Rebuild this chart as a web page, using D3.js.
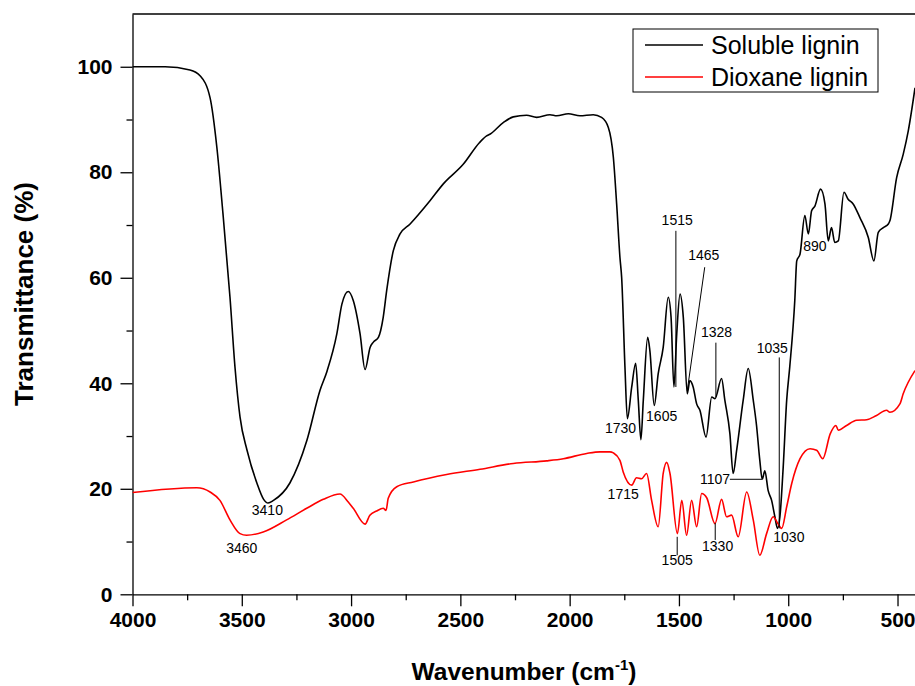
<!DOCTYPE html>
<html lang="en">
<head>
  <meta charset="utf-8">
  <title>FTIR spectra of lignin</title>
  <script src="https://d3js.org/d3.v7.min.js"></script>
  <style>
    body { margin: 0; background: #fff; }
    svg { display: block; font-family: Arial, "Liberation Sans", sans-serif; }
  </style>
</head>
<body>
  <svg id="chart" width="915" height="686"></svg>

  <script>
    // [wavenumber, transmittance]
    const soluble = [
      [4000,100],[3851,100],[3737,99.4],[3691,98.3],[3645,94.1],[3614,84.7],[3586,72.1],[3554,56.3],
      [3531,43.0],[3508,33.6],[3476,27.3],[3431,21.1],[3400,18.0],[3380,17.3],[3355,17.8],[3280,21.1],
      [3202,29.2],[3142,38.7],[3110,42.3],[3065,49.4],[3042,55.0],[3013,57.4],[2990,55.7],[2959,49.4],
      [2936,42.6],[2913,46.8],[2898,47.8],[2875,48.7],[2853,52.5],[2837,57.6],[2807,65.1],[2776,68.3],
      [2730,70.2],[2639,74.6],[2578,77.8],[2487,81.5],[2413,85.6],[2380,86.9],[2365,87.2],[2304,89.4],
      [2258,90.5],[2197,90.8],[2151,90.4],[2090,90.9],[2059,90.7],[2006,91.1],[1953,90.7],[1892,90.9],
      [1854,90.4],[1823,88.5],[1800,82.8],[1785,74.0],[1770,63.9],[1762,60],[1747,43.1],[1736,33.3],
      [1716,39.3],[1698,43.8],[1686,36.8],[1674,29.3],[1663,36.8],[1643,48.7],[1633,46.2],[1613,35.8],
      [1595,41.8],[1572,46.8],[1549,56.3],[1536,52.5],[1523,39.3],[1510,49.4],[1495,56.9],[1480,52.5],
      [1462,38.0],[1450,40.5],[1435,39.3],[1419,36.1],[1404,34.9],[1376,29.8],[1350,37.4],[1335,37.1],
      [1305,40.9],[1290,36.8],[1267,30.5],[1252,22.9],[1236,27.3],[1206,36.8],[1183,42.8],[1160,36.8],
      [1145,32],[1130,25.4],[1119,21.8],[1107,23.4],[1092,19.7],[1076,17.8],[1061,14.7],[1049,12.5],
      [1038,14.7],[1023,24.1],[1007,36.8],[993,43.1],[970,55.7],[961,63.2],[946,64.5],[924,71.8],
      [908,68.3],[893,72.7],[878,73.6],[852,76.8],[832,74.0],[817,67.0],[802,69.5],[787,66.7],
      [771,67.0],[745,76.2],[726,74.9],[703,74.0],[672,71.4],[634,67.7],[608,63.2],[588,68.6],
      [565,69.5],[542,70.2],[535,70.8],[504,79.0],[474,83.4],[451,87.8],[420,96.0]
    ];

    const dioxane = [
      [4000,19.3],[3706,20.2],[3645,19.4],[3600,17.8],[3554,14.1],[3508,11.5],[3478,11.2],[3402,11.8],
      [3295,14.1],[3203,16.3],[3127,18.0],[3051,19.0],[3013,17.5],[2990,16.3],[2936,13.3],[2914,15.0],
      [2883,15.8],[2853,16.3],[2840,15.9],[2830,18.2],[2791,20.4],[2715,21.3],[2563,22.7],[2410,23.7],
      [2258,24.8],[2105,25.3],[2029,25.7],[1922,26.7],[1861,27.0],[1816,27.0],[1800,26.8],[1770,25.4],
      [1755,23.2],[1716,20.7],[1694,22.1],[1671,21.9],[1648,22.9],[1625,17.8],[1595,12.8],[1572,22.9],
      [1556,25.0],[1541,22.9],[1507,11.5],[1487,17.8],[1465,11.2],[1442,17.8],[1419,12.8],[1396,19.1],
      [1373,18.3],[1335,13.4],[1305,18.0],[1282,14.7],[1259,15.0],[1229,10.9],[1190,19.4],[1160,14.1],
      [1130,7.4],[1099,11.5],[1069,14.7],[1046,13.3],[1030,12.5],[1007,16.6],[984,21.0],[946,25.7],
      [900,27.6],[870,27.3],[842,25.7],[808,30.4],[782,32.0],[771,31.1],[733,32.0],[687,33.0],
      [641,33.1],[596,33.9],[550,34.9],[535,34.5],[489,36.1],[474,38.0],[420,42.4]
    ];

    const seriesNames = ["Soluble lignin", "Dioxane lignin"];
    const seriesColors = ["#000000", "#ff0000"];

    const xTicks = [4000, 3500, 3000, 2500, 2000, 1500, 1000, 500];
    const xMinorTicks = [3750, 3250, 2750, 2250, 1750, 1250, 750];
    const yTicks = [0, 20, 40, 60, 80, 100];
    const yMinorTicks = [10, 30, 50, 70, 90];

    // peak labels: text, label position [wn, T], optional leader [wn1, T1, wn2, T2]
    const peakLabels = [
      ["3410", 3383, 15.0, null],
      ["3460", 3500, 7.8, null],
      ["1730", 1767, 30.5, null],
      ["1605", 1579, 32.8, null],
      ["1515", 1508, 70.0, [1514, 68.9, 1514, 39.3]],
      ["1465", 1386, 63.4, [1382, 62.0, 1462, 38.6]],
      ["1328", 1328, 48.7, [1331, 47.7, 1331, 37.4]],
      ["1035", 1073, 45.8, [1041, 44.9, 1041, 12.5]],
      ["1107", 1335, 20.9, [1267, 21.8, 1120, 21.8]],
      ["890", 878, 65.1, null],
      ["1715", 1755, 18.0, null],
      ["1505", 1508, 5.5, [1508, 10.9, 1508, 7.4]],
      ["1330", 1323, 8.2, [1334, 13.5, 1334, 10.3]],
      ["1030", 997, 9.9, null]
    ];

    const svg = d3.select("#chart");

    const x = d3.scaleLinear().domain([4000, 420]).range([132.5, 915]);
    const y = d3.scaleLinear().domain([0, 110]).range([594.3, 14]);

    // frame: top line
    svg.append("line")
      .attr("x1", x(4000)).attr("x2", 915)
      .attr("y1", y(110)).attr("y2", y(110))
      .attr("stroke", "#000").attr("stroke-width", 1.3);

    // x axis
    const gx = svg.append("g").attr("transform", `translate(0,${y(0)})`);
    gx.append("g")
      .call(d3.axisBottom(x).tickValues(xMinorTicks).tickSize(6).tickFormat(""))
      .call(g => g.select(".domain").remove());
    gx.append("g")
      .call(d3.axisBottom(x).tickValues(xTicks).tickSize(12).tickSizeOuter(0).tickPadding(6).tickFormat(d3.format("d")));
    gx.selectAll("line, path").attr("stroke", "#000").attr("stroke-width", 1.3);
    gx.selectAll("text")
      .attr("fill", "#000")
      .attr("font-size", 21)
      .attr("font-weight", "bold");

    // y axis
    const gy = svg.append("g").attr("transform", `translate(${x(4000)},0)`);
    gy.append("g")
      .call(d3.axisLeft(y).tickValues(yMinorTicks).tickSize(6).tickFormat(""))
      .call(g => g.select(".domain").remove());
    gy.append("g")
      .call(d3.axisLeft(y).tickValues(yTicks).tickSize(12).tickSizeOuter(0).tickPadding(8));
    gy.selectAll("line, path").attr("stroke", "#000").attr("stroke-width", 1.3);
    gy.selectAll("text")
      .attr("fill", "#000")
      .attr("font-size", 21)
      .attr("font-weight", "bold");

    // axis titles
    const xTitle = svg.append("text")
      .attr("x", 524).attr("y", 680)
      .attr("text-anchor", "middle")
      .attr("font-size", 24.5).attr("font-weight", "bold");
    xTitle.append("tspan").text("Wavenumber (cm");
    xTitle.append("tspan").attr("font-size", 15).attr("dy", -10).text("-1");
    xTitle.append("tspan").attr("dy", 10).text(")");

    svg.append("text")
      .attr("transform", "translate(33,294) rotate(-90)")
      .attr("text-anchor", "middle")
      .attr("font-size", 26).attr("font-weight", "bold")
      .text("Transmittance (%)");

    // spectra
    const line = d3.line()
      .x(d => x(d[0]))
      .y(d => y(d[1]))
      .curve(d3.curveMonotoneX);

    svg.append("clipPath").attr("id", "plot-clip")
      .append("rect").attr("x", x(4000)).attr("y", y(110)).attr("width", 915 - x(4000)).attr("height", y(0) - y(110));

    [soluble, dioxane].forEach((data, i) => {
      svg.append("path")
        .attr("d", line(data))
        .attr("clip-path", "url(#plot-clip)")
        .attr("fill", "none")
        .attr("stroke", seriesColors[i])
        .attr("stroke-width", 1.6)
        .attr("stroke-linejoin", "round");
    });

    // peak labels
    const ann = svg.append("g").attr("font-size", 14).attr("fill", "#000");
    peakLabels.forEach(([txt, wn, t, leader]) => {
      if (leader) {
        ann.append("line")
          .attr("x1", x(leader[0])).attr("y1", y(leader[1]))
          .attr("x2", x(leader[2])).attr("y2", y(leader[3]))
          .attr("stroke", "#000").attr("stroke-width", 1);
      }
      ann.append("text")
        .attr("x", x(wn)).attr("y", y(t))
        .attr("text-anchor", "middle")
        .text(txt);
    });

    // legend
    const legend = svg.append("g").attr("transform", "translate(633,29)");
    legend.append("rect")
      .attr("width", 245).attr("height", 63)
      .attr("fill", "#fff").attr("stroke", "#000").attr("stroke-width", 1);
    seriesNames.forEach((name, i) => {
      const row = legend.append("g").attr("transform", `translate(0,${16 + i * 32})`);
      row.append("line")
        .attr("x1", 12).attr("x2", 70)
        .attr("stroke", seriesColors[i]).attr("stroke-width", 1.6);
      row.append("text")
        .attr("x", 78).attr("y", 9)
        .attr("font-size", 25)
        .text(name);
    });
  </script>
</body>
</html>
